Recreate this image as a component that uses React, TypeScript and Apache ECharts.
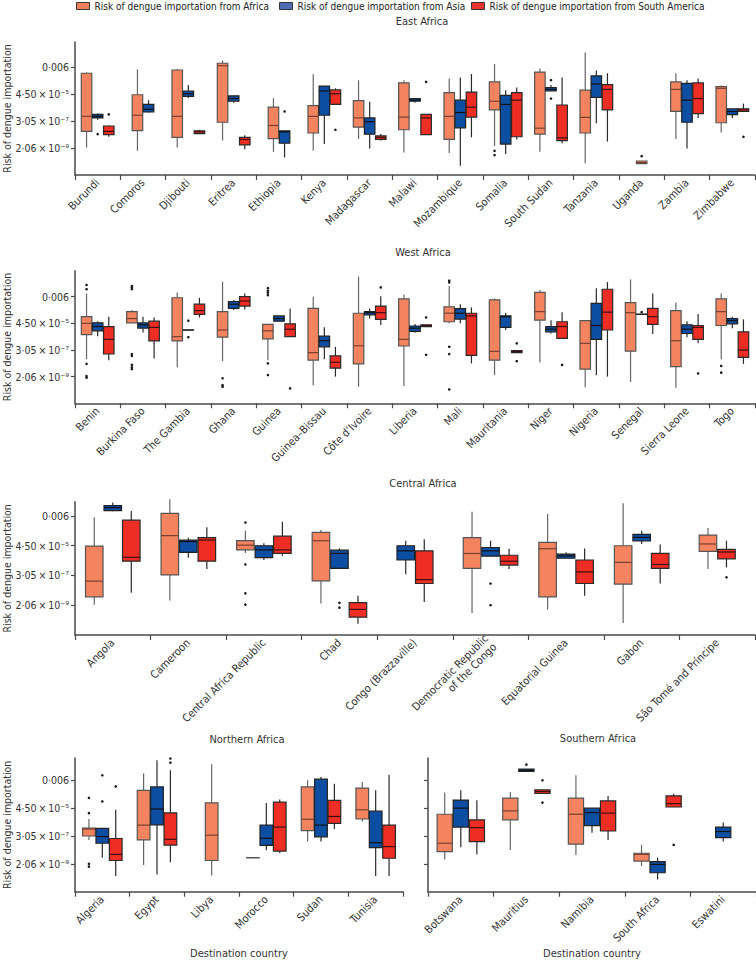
import React, { useEffect, useRef } from 'react';
import * as echarts from 'echarts';

// Values are natural logarithms of the risk of dengue importation: [min, q1, median, q3, max]
type Box = number[] | null;

const eastCountries = ['Burundi', 'Comoros', 'Djibouti', 'Eritrea', 'Ethiopia', 'Kenya', 'Madagascar', 'Malawi', 'Mozambique', 'Somalia', 'South Sudan', 'Tanzania', 'Uganda', 'Zambia', 'Zimbabwe'];
const eastFromAfrica: Box[] = [
  [-19.9, -16.9, -14.1, -6.1, -5.94], [-20.5, -16.75, -13.9, -10.1, -5.4], [-19.9, -18, -14.1, -5.5, -5.3],
  [-18.6, -15.2, -4.7, -4.25, -3.75], [-20.7, -18.25, -15.8, -12.4, -10.75], [-20.5, -17.2, -14.1, -12.1, -6.3],
  [-18.3, -16.1, -14.4, -11.2, -7.4], [-20.8, -16.6, -14.25, -7.9, -7.4], [-20.9, -18.4, -14.1, -9.7, -7.1],
  [-19.6, -12.9, -11.3, -7.7, -4.4], [-20.7, -17.4, -16.3, -5.9, -5.2], [-22.8, -17.2, -14.3, -9.25, -2.25],
  [-22.9, -22.9, -22.7, -22.4, -22.4], [-18.3, -13.2, -9.1, -7.7, -6.1], [-17.1, -15.3, -8.9, -8.6, -8.4],
];
const eastFromAsia: Box[] = [
  [-14.75, -14.4, -14.1, -13.75, -13.6], [-13.4, -13.3, -12.8, -11.9, -11.1], [-10.7, -10.4, -9.9, -9.4, -8.3],
  [-11.6, -11.3, -10.8, -10.3, -10.25], [-21.75, -19.1, -17, -16.8, -16.8], [-19.25, -13.9, -9.4, -8.5, -8.5],
  [-20.1, -17.4, -15.1, -14.4, -11.4], [-11.6, -11.3, -11.1, -10.8, -10.7], [-23.3, -16.25, -13.4, -11.1, -6.9],
  [-21.1, -19.25, -11.9, -10.2, -9.25], [-9.4, -9.4, -9.1, -8.75, -8.3], [-15.4, -10.6, -8.1, -6.6, -5.6],
  null, [-20.1, -15.2, -11.1, -8, -7.4], [-14.4, -13.8, -13.2, -12.7, -12.7],
];
const eastFromSouthAmerica: Box[] = [
  [-17.9, -17.5, -16.9, -15.9, -15.8], null, [-17.4, -17.3, -17.0, -16.8, -16.6],
  [-20.2, -19.4, -18.4, -18, -17.6], null, [-11.9, -11.9, -9.9, -9.2, -8.9],
  [-18.6, -18.4, -18.0, -17.75, -17.4], [-17.5, -17.5, -14.4, -13.75, -13.75], [-18, -14.25, -12.4, -9.6, -6.25],
  [-18.4, -17.9, -11.1, -9.7, -8.75], [-19.1, -18.6, -18.1, -12, -6.9], [-18.8, -12.9, -9.1, -8.2, -6.1],
  null, [-14.4, -13.6, -10.8, -7.9, -7.1], [-13.2, -13.2, -12.9, -12.7, -11.75],
];
// outliers: [country index, value]
const eastOutAfrica = [[9, -20.5], [9, -21.3], [12, -21.5]];
const eastOutAsia = [[0, -17.4], [4, -13.2], [10, -7.4], [10, -10.8]];
const eastOutSouthAmerica = [[0, -13.75], [5, -16.6], [7, -7.7], [14, -17.9]];

const westCountries = ['Benin', 'Burkina Faso', 'The Gambia', 'Ghana', 'Guinea', 'Guinea–Bissau', 'Côte d’Ivoire', 'Liberia', 'Mali', 'Mauritania', 'Niger', 'Nigeria', 'Senegal', 'Sierra Leone', 'Togo'];
const westFromAfrica: Box[] = [
  [-16.75, -12.1, -10, -8.75, -4.4], [-9.9, -9.9, -9.1, -7.8, -7.5], [-18.25, -13.3, -12.5, -5.2, -4.2],
  [-17.1, -12.6, -11.25, -7.8, -2.2], [-16.9, -12.9, -11.4, -10.2, -10.2], [-21.6, -16.9, -15.5, -7.2, -5],
  [-21.9, -17.6, -14.2, -8.1, -1.25], [-21.75, -14.25, -13, -5.4, -4.6], [-10, -9.7, -8.1, -6.9, -3],
  [-19.7, -16.9, -15.25, -5.6, -5.3], [-17.3, -9.4, -7.8, -4.2, -3.75], [-22, -18.6, -13.75, -9.5, -9.5],
  [-21, -15.2, -8, -6.1, -1.75], [-22.1, -18.1, -13.25, -7.6, -6.1], [-16.75, -10.4, -7.8, -5.4, -4.4],
];
const westFromAsia: Box[] = [
  [-12.4, -11.4, -10.6, -9.9, -9.6], [-11.7, -10.9, -10.3, -9.9, -8.75], [-11.25, -11.25, -11.25, -11.25, -11.25],
  [-7.5, -7.2, -6.4, -5.9, -5.6], [-9.6, -9.6, -9.1, -8.6, -8.6], [-16.75, -14.4, -13.25, -12.4, -10.75],
  [-9.1, -8.4, -8, -7.8, -7.2], [-11.75, -11.5, -10.9, -10.5, -10.1], [-10, -9.2, -8.1, -7.25, -6.4],
  [-11.25, -10.75, -8.75, -8.6, -8], [-11.9, -11.6, -11.1, -10.6, -9.4], [-19.75, -13, -10.4, -6.25, -3.4],
  [-8.3, -8.3, -8.3, -8.3, -8.3], [-12.6, -11.9, -11.1, -10.3, -9.6], [-10.9, -10.1, -9.5, -9.1, -8.75],
];
const westFromSouthAmerica: Box[] = [
  [-16.9, -15.75, -13, -10.6, -8.75], [-16.6, -13.3, -10.75, -9.6, -8.9], [-8.9, -8.3, -7.6, -6.4, -5.2],
  [-7.4, -6.75, -5.8, -5, -4.4], [-12.5, -12.5, -11.1, -10.1, -7.2], [-20, -18.4, -17.3, -16.1, -14.4],
  [-10.3, -9.25, -8, -6.75, -4.9], [-10.6, -10.6, -10.4, -10.3, -10.3], [-17.5, -16, -8.6, -8.1, -7],
  [-15.5, -15.5, -15.3, -15.1, -15.1], [-12.8, -12.8, -10.6, -9.7, -7.9], [-20, -11.25, -7.9, -3.6, -2.25],
  [-12, -10.2, -8.75, -7.2, -4.4], [-13.75, -13, -10.75, -10.4, -8.25], [-17.6, -16.4, -15, -11.6, -9.25],
];
const westOutAfrica = [
  [0, -2.8], [0, -3.6], [0, -17.6], [0, -19.9], [0, -20.2],
  [1, -3], [1, -3.25], [1, -3.6], [1, -15.75], [1, -16.1], [1, -17.8], [1, -18.25], [1, -18.6],
  [3, -20.3], [3, -21.6], [3, -21.9],
  [4, -3.4], [4, -3.9], [4, -4.25], [4, -4.7], [4, -17.5], [4, -19.7],
  [8, -2], [8, -2.3], [8, -14.4], [8, -15.75], [8, -22.4],
  [14, -18], [14, -19.25],
];
const westOutAsia = [[2, -9.5], [2, -12.6], [12, -7.9]];
const westOutSouthAmerica = [[4, -22.2], [6, -3.25], [7, -8.9], [7, -15.9], [9, -13.75], [9, -17.1], [10, -17.8], [13, -19.4]];

const centralCountries = ['Angola', 'Cameroon', 'Central Africa Republic', 'Chad', 'Congo (Brazzaville)', 'Democratic Republic\nof the Congo', 'Equatorial Guinea', 'Gabon', 'São Tomé and Príncipe'];
const centralFromAfrica: Box[] = [
  [-19.9, -18.6, -15.95, -10.05, -5.2], [-19.2, -14.9, -8.3, -4.55, -2.2], [-11.2, -10.7, -9.9, -9.15, -7.5],
  [-19.7, -15.9, -9.15, -7.75, -7.35], null, [-21.3, -13.8, -11.3, -8.65, -4.3],
  [-20.7, -18.6, -10.5, -9.45, -4.65], [-23, -16.45, -12.8, -10, -2.85], [-13.9, -10.95, -9.7, -8.2, -7],
];
const centralFromAsia: Box[] = [
  [-4.2, -4.1, -3.6, -3.25, -2.75], [-12, -11.1, -9.3, -9.05, -8.65], [-12.4, -12, -10.7, -10, -9.6],
  [-13.8, -13.8, -11.3, -10.75, -10.45], [-14.8, -12.4, -10.85, -10, -9.15], [-11.75, -11.75, -10.85, -10.3, -9.15],
  [-12.1, -12.1, -11.7, -11.4, -11.1], [-9.7, -9.2, -8.6, -8.1, -7.5], null,
];
const centralFromSouthAmerica: Box[] = [
  [-17.9, -12.6, -11.95, -5.7, -4.15], [-13.9, -12.6, -9.05, -8.65, -6.9], [-11.7, -11.3, -10.7, -8.4, -5.95],
  [-23.1, -22, -20.7, -19.55, -18.4], [-19.45, -16.35, -15.7, -10.85, -8.9], [-13.9, -13.25, -12.6, -11.6, -10.5],
  [-18.4, -16.35, -14.4, -12.4, -10.45], [-16.35, -13.8, -13.15, -11.3, -9.8], [-13.65, -12.2, -11.05, -10.6, -9.15],
];
const centralOutAfrica = [[2, -6.1], [2, -13.15], [2, -18], [2, -19.9]];
const centralOutAsia = [[3, -19.6], [3, -20.4], [5, -16.35], [5, -20]];
const centralOutSouthAmerica = [[8, -15.3]];

const northCountries = ['Algeria', 'Egypt', 'Libya', 'Morocco', 'Sudan', 'Tunisia'];
const northFromAfrica: Box[] = [
  [-15.7, -15, -13.75, -13.6, -11.95], [-20.2, -15.7, -13.05, -6.8, -3.8], [-22.1, -19.4, -14.85, -9.05, -2.1],
  [-18.9, -18.9, -18.9, -18.9, -18.9], [-16, -14.05, -12, -6.2, -5], [-12.4, -11.95, -10.3, -6.4, -5.3],
];
const northFromAsia: Box[] = [
  [-18.9, -16.3, -15.1, -13.65, -13.65], [-21.9, -13, -10.15, -6.2, -1.4], null,
  [-17.55, -16.7, -15.4, -13.05, -9.1], [-16, -15.15, -13.05, -4.8, -4.4], [-22.2, -17.1, -16.2, -10.55, -6.8],
];
const northFromSouthAmerica: Box[] = [
  [-22.2, -19.4, -18.3, -15.45, -10.3], [-19.7, -16.65, -15.6, -10.85, -3.2], null,
  [-18.05, -17.7, -13.4, -8.93, -8.45], [-13.75, -12.75, -11.5, -8.6, -5.6], [-22.2, -19, -16.9, -13.05, -4],
];
const northOutAfrica = [[0, -8.15], [0, -10.9], [0, -20], [0, -20.5]];
const northOutAsia = [[0, -4.1], [0, -8.8]];
const northOutSouthAmerica = [[0, -6.1], [1, -1.1], [1, -1.85]];

const southCountries = ['Botswana', 'Mauritius', 'Namibia', 'South Africa', 'Eswatini'];
const southFromAfrica: Box[] = [
  [-19.2, -17.8, -16.3, -11.1, -7.2], [-17.5, -12.1, -10.5, -8.2, -7.1], [-18.4, -16.45, -11.1, -8.2, -4.1],
  [-20.4, -19.5, -18.3, -18.1, -16.6], null,
];
const southFromAsia: Box[] = [
  [-17, -13.4, -10, -8.55, -6.8], [-3.4, -3.4, -3.2, -3.0, -3.0], [-14.4, -13.15, -10.8, -10, -10],
  [-22.8, -21.6, -20.1, -19.6, -18.9], [-16, -15.3, -14.2, -13.4, -12.6],
];
const southFromSouthAmerica: Box[] = [
  [-18.3, -16, -13.5, -12.1, -8.6], [-7.35, -7.35, -7, -6.7, -6.6], [-15.7, -14.1, -10.9, -8.7, -7.8],
  [-9.8, -9.8, -9.2, -7.8, -7.4], null,
];
const southOutAfrica: number[][] = [];
const southOutAsia = [[1, -2.2]];
const southOutSouthAmerica = [[1, -5], [1, -9], [3, -16.6]];

const yTickValues = [-20, -15, -10, -5];
const yTickLabels = ['2·06\u2009×\u200910⁻⁹', '3·05\u2009×\u200910⁻⁷', '4·50\u2009×\u200910⁻⁵', '0·006'];

const SOURCES = [
  'Risk of dengue importation from Africa',
  'Risk of dengue importation from Asia',
  'Risk of dengue importation from South America',
];

const FONT = "'DejaVu Sans Condensed', 'Liberation Sans Narrow', 'Liberation Sans', sans-serif";
const FILLS = ['#F4845F', '#0B4EA2', '#EE2E24'];
const EDGES = ['#555555', '#222222', '#2a2a2a'];
const WHISKERS = ['#666666', '#2a2a2a', '#2a2a2a'];
const MEDIANS = ['#7a3f2e', '#111111', '#3a1010'];
const LEGEND_FILLS = ['#F07F5E', '#4C6DB4', '#E8342C'];
const STEP = 0.245;
const BOXW = 0.232;

const panels = [
  { title: 'East Africa', titleX: 422, titleY: 16, countries: eastCountries, boxes: [eastFromAfrica, eastFromAsia, eastFromSouthAmerica], outs: [eastOutAfrica, eastOutAsia, eastOutSouthAmerica], grid: { left: 75, top: 42, width: 680, height: 133 }, max: -0.3, yLabels: true, xName: '' },
  { title: 'West Africa', titleX: 423, titleY: 247, countries: westCountries, boxes: [westFromAfrica, westFromAsia, westFromSouthAmerica], outs: [westOutAfrica, westOutAsia, westOutSouthAmerica], grid: { left: 75, top: 270.7, width: 680, height: 132.6 }, max: -0.12, yLabels: true, xName: '' },
  { title: 'Central Africa', titleX: 423, titleY: 478, countries: centralCountries, boxes: [centralFromAfrica, centralFromAsia, centralFromSouthAmerica], outs: [centralOutAfrica, centralOutAsia, centralOutSouthAmerica], grid: { left: 75, top: 501.7, width: 680, height: 133.3 }, max: -2.6, yLabels: true, xName: '' },
  { title: 'Northern Africa', titleX: 247, titleY: 734, countries: northCountries, boxes: [northFromAfrica, northFromAsia, northFromSouthAmerica], outs: [northOutAfrica, northOutAsia, northOutSouthAmerica], grid: { left: 75, top: 758, width: 328, height: 133.7 }, max: -1.0, yLabels: true, xName: 'Destination country' },
  { title: 'Southern Africa', titleX: 598, titleY: 733, countries: southCountries, boxes: [southFromAfrica, southFromAsia, southFromSouthAmerica], outs: [southOutAfrica, southOutAsia, southOutSouthAmerica], grid: { left: 428, top: 758, width: 328, height: 133.7 }, max: -1.0, yLabels: false, xName: 'Destination country' },
];

function slotFor(boxes: Box[][], cat: number, src: number): number {
  const present = [0, 1, 2].filter((s) => boxes[s][cat] != null);
  const rank = present.indexOf(src);
  return rank - (present.length - 1) / 2;
}

function boxRenderer(src: number) {
  return (params: any, api: any) => {
    const cat = api.value(0);
    const slot = api.value(1);
    const band = api.size([1, 0])[0];
    const cx = api.coord([cat, 0])[0] + slot * band * STEP;
    const hw = (band * BOXW) / 2;
    const yy = (i: number) => api.coord([cat, api.value(i)])[1];
    const yMin = yy(2), yQ1 = yy(3), yMed = yy(4), yQ3 = yy(5), yMax = yy(6);
    const lw = 1.2;
    return {
      type: 'group',
      children: [
        { type: 'line', shape: { x1: cx, y1: yMax, x2: cx, y2: yQ3 }, style: { stroke: WHISKERS[src], lineWidth: lw } },
        { type: 'line', shape: { x1: cx, y1: yQ1, x2: cx, y2: yMin }, style: { stroke: WHISKERS[src], lineWidth: lw } },
        { type: 'rect', shape: { x: cx - hw, y: yQ3, width: hw * 2, height: Math.max(yQ1 - yQ3, 0.01) }, style: { fill: FILLS[src], stroke: EDGES[src], lineWidth: lw } },
        { type: 'line', shape: { x1: cx - hw, y1: yMed, x2: cx + hw, y2: yMed }, style: { stroke: yQ1 - yQ3 < 1 ? EDGES[src] : MEDIANS[src], lineWidth: lw } },
      ],
    };
  };
}

function outlierRenderer(params: any, api: any) {
  const cat = api.value(0);
  const slot = api.value(1);
  const band = api.size([1, 0])[0];
  const p = api.coord([cat, api.value(2)]);
  return { type: 'circle', shape: { cx: p[0] + slot * band * STEP, cy: p[1], r: 1.3 }, style: { fill: '#1a1a1a' } };
}

function buildOption() {
  const grids: any[] = [];
  const xAxes: any[] = [];
  const yAxes: any[] = [];
  const series: any[] = [];
  const titles: any[] = [];
  panels.forEach((p, pi) => {
    grids.push({ ...p.grid, containLabel: false, outerBoundsMode: 'none' });
    titles.push({ text: p.title, left: p.titleX, top: p.titleY, padding: 0, textAlign: 'center', textStyle: { fontFamily: FONT, fontSize: 11, fontWeight: 'normal', color: '#333' } });
    xAxes.push({
      type: 'category', gridIndex: pi, data: p.countries,
      axisLine: { lineStyle: { color: '#4a4a4a', width: 1.5 } },
      axisTick: { show: true, length: 5, lineStyle: { color: '#4a4a4a', width: 1.2 } },
      axisLabel: { rotate: 45, interval: 0, margin: 6, fontFamily: FONT, fontSize: 11, color: '#333', lineHeight: 12 },
      name: p.xName, nameLocation: 'middle', nameGap: 56, nameMoveOverlap: false,
      nameTextStyle: { fontFamily: FONT, fontSize: 11, color: '#333' },
      splitLine: { show: false },
    });
    yAxes.push({
      type: 'value', gridIndex: pi, min: -25, max: p.max, interval: 5,
      axisLine: { show: true, lineStyle: { color: '#4a4a4a', width: 1.5 } },
      axisTick: { show: true, length: 4, customValues: yTickValues, lineStyle: { color: '#4a4a4a', width: 1.2 } },
      axisLabel: {
        show: p.yLabels, customValues: yTickValues, margin: 6, fontFamily: FONT, fontSize: 10.5, color: '#333',
        formatter: (v: number) => { const i = yTickValues.indexOf(Math.round(v)); return i >= 0 && Math.abs(v - Math.round(v)) < 1e-6 ? yTickLabels[i] : ''; },
      },
      splitLine: { show: false },
      name: p.yLabels ? 'Risk of dengue importation' : '', nameLocation: 'middle', nameGap: 63, nameMoveOverlap: false,
      nameTextStyle: { fontFamily: FONT, fontSize: 10.5, color: '#333' },
    });
    [0, 1, 2].forEach((src) => {
      const data: number[][] = [];
      p.boxes[src].forEach((b, cat) => {
        if (b) data.push([cat, slotFor(p.boxes, cat, src), ...b]);
      });
      series.push({
        type: 'custom', name: SOURCES[src], xAxisIndex: pi, yAxisIndex: pi,
        renderItem: boxRenderer(src), data, encode: { x: 0, y: 4 },
        itemStyle: { color: FILLS[src] },
      });
      const od = p.outs[src].map(([cat, v]) => [cat, slotFor(p.boxes, cat, src), v]);
      series.push({
        type: 'custom', name: SOURCES[src], xAxisIndex: pi, yAxisIndex: pi,
        renderItem: outlierRenderer, data: od, encode: { x: 0, y: 2 },
        itemStyle: { color: FILLS[src] },
      });
    });
  });
  const legendX = [76, 279, 471];
  const legends = SOURCES.map((s, i) => ({
    left: legendX[i], top: 1, padding: 0, orient: 'horizontal', itemWidth: 13, itemHeight: 7, itemGap: 4,
    data: [{ name: s, icon: 'rect', itemStyle: { color: LEGEND_FILLS[i], borderColor: '#333', borderWidth: 1 } }],
    textStyle: { fontFamily: FONT, fontSize: 10, color: '#222' },
    selectedMode: false,
  }));
  return { animation: false, backgroundColor: '#ffffff', title: titles, legend: legends, grid: grids, xAxis: xAxes, yAxis: yAxes, series };
}

export default function App() {
  const ref = useRef<HTMLDivElement>(null);
  useEffect(() => {
    if (!ref.current) return;
    const chart = echarts.init(ref.current, undefined, { renderer: 'svg' });
    chart.setOption(buildOption() as any);
    return () => chart.dispose();
  }, []);
  return <div ref={ref} style={{ position: 'absolute', left: 0, top: 0, width: 756, height: 960 }} />;
}
